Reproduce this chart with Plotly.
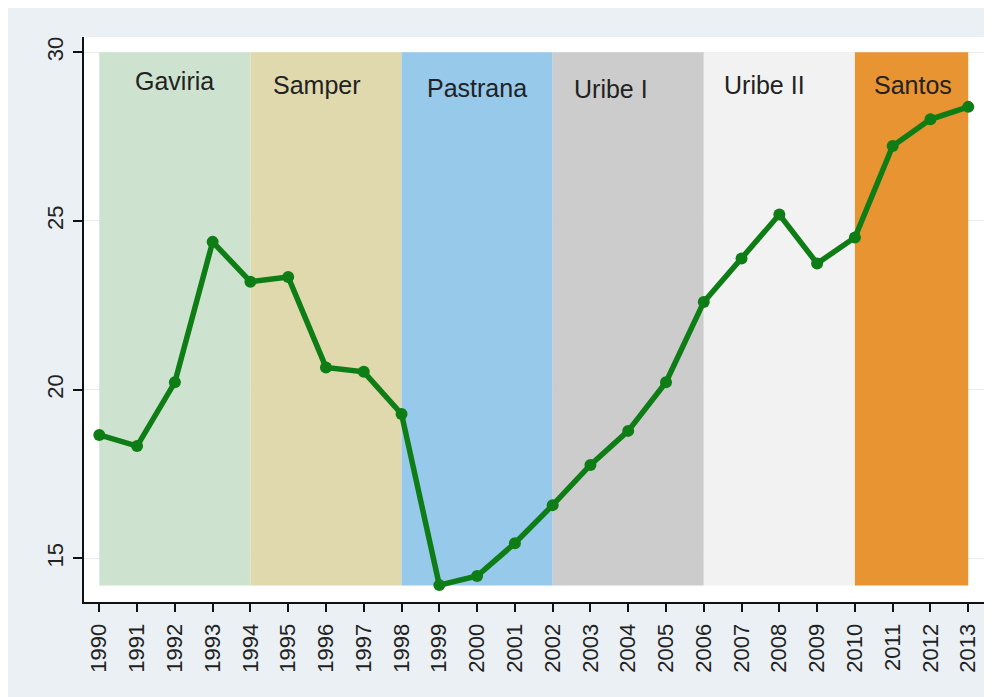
import plotly.graph_objects as go

# series
years = list(range(1990, 2014))
values = [18.66, 18.33, 20.22, 24.38, 23.20, 23.34, 20.66, 20.53, 19.28, 14.21,
          14.48, 15.45, 16.58, 17.77, 18.78, 20.22, 22.60, 23.89, 25.19, 23.74,
          24.51, 27.22, 28.01, 28.38]

# presidential terms
terms = ["Gaviria", "Samper", "Pastrana", "Uribe I", "Uribe II", "Santos"]
term_start = [1990, 1994, 1998, 2002, 2006, 2010]
term_end = [1994, 1998, 2002, 2006, 2010, 2013]
term_colors = ["#cde2cf", "#e0d9ad", "#97c9eb", "#cccccc", "#f2f2f2", "#e89432"]
label_x = [1992.0, 1995.75, 2000.0, 2003.55, 2007.6, 2011.55]
label_y = [29.15, 29.02, 28.93, 28.9, 29.02, 29.02]
band_top = 30
band_bottom = 14.2

yticks = [15, 20, 25, 30]

fig = go.Figure()

for name, x0, x1, col in zip(terms, term_start, term_end, term_colors):
    fig.add_shape(type="rect", x0=x0, x1=x1, y0=band_bottom, y1=band_top,
                  xref="x", yref="y", fillcolor=col, line_width=0, layer="between")

for name, lx, ly in zip(terms, label_x, label_y):
    fig.add_annotation(x=lx, y=ly, text=name, showarrow=False,
                       font=dict(family="Liberation Sans, Arial", size=25, color="#222"))

fig.add_trace(
    go.Scatter(
        x=years,
        y=values,
        mode="lines+markers",
        line=dict(color="#0f7d16", width=5.5),
        marker=dict(color="#0f7d16", size=12),
        showlegend=False,
    )
)

# page body adds 8px on top/left, so the figure is a bit smaller
fig.update_layout(
    width=984,
    height=689,
    margin=dict(l=76, r=6, t=29, b=95),
    paper_bgcolor="#eaf0f3",
    plot_bgcolor="#ffffff",
    font=dict(family="Liberation Sans, Arial", size=22, color="#222"),
    xaxis=dict(
        range=[1989.595, 2013.47],
        tickmode="array",
        tickvals=years,
        ticktext=[str(y) for y in years],
        tickangle=-90,
        ticks="outside",
        ticklen=8,
        tickwidth=2,
        tickcolor="#111",
        showline=True,
        linecolor="#111",
        linewidth=2,
        showgrid=False,
        zeroline=False,
        automargin=False,
        ticklabelstandoff=3,
    ),
    yaxis=dict(
        range=[13.71, 30.45],
        tickmode="array",
        tickvals=yticks,
        tickangle=-90,
        ticks="outside",
        ticklen=9,
        tickwidth=2,
        tickcolor="#111",
        showline=True,
        linecolor="#111",
        linewidth=2,
        showgrid=True,
        gridcolor="#ececec",
        gridwidth=1,
        zeroline=False,
        automargin=False,
        ticklabelstandoff=1,
    ),
)

fig.write_html("out.html")
